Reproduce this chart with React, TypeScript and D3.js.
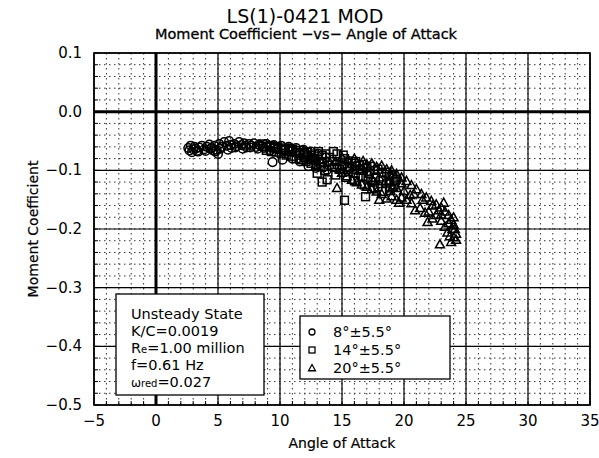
import React from "react";
import * as d3 from "d3";

const title = "LS(1)-0421 MOD";
const subtitle = "Moment Coefficient \u2212vs\u2212 Angle of Attack";
const xLabel = "Angle of Attack";
const yLabel = "Moment Coefficient";
const xTicks = [-5, 0, 5, 10, 15, 20, 25, 30, 35];
const yTicks = [0.1, 0.0, -0.1, -0.2, -0.3, -0.4, -0.5];
const yTickLabels = ["0.1", "0.0", "\u22120.1", "\u22120.2", "\u22120.3", "\u22120.4", "\u22120.5"];
const xTickLabels = ["\u22125", "0", "5", "10", "15", "20", "25", "30", "35"];

// 8° ± 5.5°
const circles: [number, number][] = [
  [2.6, -0.062], [2.7, -0.066], [2.8, -0.058], [3.0, -0.064], [3.1, -0.060], [3.3, -0.067], [3.5, -0.061],
  [3.7, -0.058], [3.9, -0.064], [4.1, -0.060], [4.3, -0.056], [4.5, -0.062], [4.7, -0.058], [4.9, -0.065],
  [5.1, -0.055], [5.3, -0.060], [5.5, -0.052], [5.7, -0.058], [5.9, -0.050], [6.1, -0.062], [6.3, -0.055],
  [6.5, -0.059], [6.7, -0.052], [6.9, -0.057], [7.1, -0.054], [7.3, -0.061], [7.5, -0.055], [7.7, -0.058],
  [7.9, -0.054], [8.1, -0.060], [8.3, -0.056], [8.6, -0.059], [8.9, -0.055], [9.2, -0.060], [9.5, -0.057],
  [9.8, -0.062], [10.1, -0.058], [10.4, -0.064], [10.7, -0.060], [11.0, -0.066], [11.3, -0.062], [11.6, -0.070],
  [11.9, -0.065], [12.2, -0.074], [12.5, -0.068], [12.8, -0.080], [13.1, -0.072], [13.4, -0.086], [13.7, -0.078],
  [14.0, -0.092], [13.8, -0.099], [13.5, -0.095], [13.2, -0.088], [12.9, -0.084], [12.6, -0.079], [12.3, -0.076],
  [12.0, -0.072], [11.6, -0.074], [11.2, -0.070], [10.8, -0.068], [10.3, -0.066], [9.8, -0.064], [9.2, -0.066],
  [8.7, -0.062], [8.2, -0.063], [7.6, -0.061], [7.0, -0.063], [6.4, -0.061], [5.8, -0.065], [5.2, -0.063],
  [4.6, -0.066], [4.0, -0.067], [3.4, -0.068], [2.9, -0.069], [9.4, -0.086], [10.2, -0.082], [11.0, -0.080],
  [12.3, -0.093], [12.9, -0.096], [11.6, -0.085], [5.0, -0.072], [4.8, -0.068], [6.0, -0.057], [7.2, -0.058],
  [8.4, -0.058], [9.6, -0.060], [10.8, -0.063], [12.0, -0.068], [13.0, -0.076], [13.8, -0.085], [3.2, -0.063],
  [4.4, -0.063],
];

// 14° ± 5.5°
const squares: [number, number][] = [
  [8.6, -0.055], [8.9, -0.060], [9.2, -0.058], [9.5, -0.062], [9.8, -0.060], [10.1, -0.065], [10.4, -0.062],
  [10.7, -0.067], [11.0, -0.064], [11.3, -0.069], [11.6, -0.066], [11.9, -0.072], [12.2, -0.069], [12.5, -0.075],
  [12.8, -0.072], [13.1, -0.068], [13.4, -0.075], [13.7, -0.072], [14.0, -0.078], [14.3, -0.068], [14.6, -0.072],
  [15.1, -0.074], [15.2, -0.080], [15.5, -0.084], [15.8, -0.088], [16.1, -0.085], [16.4, -0.092], [16.7, -0.090],
  [17.0, -0.095], [17.3, -0.093], [17.6, -0.100], [17.9, -0.098], [18.2, -0.104], [18.6, -0.103], [18.8, -0.110],
  [19.1, -0.108], [19.4, -0.115], [19.2, -0.125], [18.9, -0.130], [18.6, -0.122], [18.2, -0.136], [17.9, -0.128],
  [17.5, -0.120], [17.1, -0.115], [16.9, -0.145], [16.7, -0.110], [16.3, -0.112], [15.9, -0.105], [15.5, -0.102],
  [15.2, -0.151], [14.8, -0.098], [14.4, -0.095], [13.8, -0.116], [13.4, -0.120], [13.6, -0.100], [13.3, -0.094],
  [12.9, -0.090], [12.5, -0.088], [12.1, -0.085], [11.7, -0.082], [11.3, -0.080], [10.9, -0.076], [10.5, -0.074],
  [10.1, -0.071], [9.7, -0.069], [9.3, -0.068], [8.9, -0.066], [12.0, -0.078], [12.4, -0.082], [12.8, -0.080],
  [13.2, -0.085], [13.0, -0.105], [14.2, -0.085], [14.6, -0.090], [15.0, -0.092], [15.6, -0.095], [16.0, -0.098],
  [16.5, -0.100], [17.2, -0.105], [17.7, -0.112], [18.3, -0.118], [18.8, -0.120], [19.3, -0.118], [17.6, -0.130],
  [16.8, -0.125], [16.0, -0.118], [15.3, -0.112], [14.5, -0.108],
];

// 20° ± 5.5°
const triangles: [number, number][] = [
  [14.5, -0.085], [15.0, -0.078], [15.5, -0.082], [16.0, -0.080], [16.2, -0.086], [16.7, -0.084], [17.0, -0.090],
  [17.4, -0.088], [17.8, -0.094], [18.2, -0.092], [18.6, -0.098], [19.0, -0.100], [19.4, -0.106], [19.8, -0.112],
  [19.8, -0.122], [19.1, -0.128], [20.2, -0.118], [20.6, -0.125], [21.0, -0.132], [21.4, -0.140], [21.8, -0.146],
  [22.2, -0.152], [22.6, -0.158], [23.0, -0.163], [23.3, -0.170], [23.6, -0.176], [23.8, -0.184], [24.0, -0.192],
  [24.1, -0.200], [24.2, -0.208], [24.0, -0.214], [23.8, -0.222], [23.5, -0.206], [23.3, -0.196], [23.0, -0.186],
  [22.9, -0.226], [22.6, -0.176], [22.3, -0.182], [22.0, -0.170], [21.7, -0.172], [21.3, -0.164], [20.9, -0.168],
  [20.6, -0.156], [20.2, -0.150], [19.8, -0.146], [19.4, -0.150], [19.0, -0.144], [18.6, -0.148], [18.2, -0.140],
  [17.8, -0.136], [17.4, -0.132], [17.0, -0.128], [16.6, -0.124], [16.2, -0.120], [15.8, -0.116], [15.4, -0.110],
  [15.0, -0.104], [14.6, -0.130], [14.8, -0.098], [18.0, -0.150], [19.6, -0.155], [20.5, -0.142], [21.9, -0.188],
  [16.4, -0.100], [17.2, -0.106], [18.0, -0.112], [18.8, -0.118], [19.4, -0.130], [20.0, -0.135], [20.8, -0.140],
  [21.5, -0.150], [22.3, -0.160], [23.0, -0.175], [23.6, -0.190], [24.0, -0.180], [23.9, -0.200], [23.7, -0.212],
  [24.2, -0.218], [23.2, -0.155], [22.8, -0.168], [15.6, -0.095], [17.5, -0.118], [18.9, -0.135],
];

const infoLines = ["Unsteady State", "K/C=0.0019", "Re=1.00 million", "f=0.61 Hz", "\u03c9red=0.027"];
const legendLabels = ["8\u00b0\u00b15.5\u00b0", "14\u00b0\u00b15.5\u00b0", "20\u00b0\u00b15.5\u00b0"];

const W = 599;
const H = 458;
const FONT = "'DejaVu Sans', sans-serif";

function Marker({ kind, cx, cy, s, sw }: { kind: number; cx: number; cy: number; s: number; sw: number }) {
  if (kind === 0) return <circle cx={cx} cy={cy} r={s} fill="none" stroke="#000" strokeWidth={sw} />;
  if (kind === 1)
    return <rect x={cx - s} y={cy - s} width={2 * s} height={2 * s} fill="none" stroke="#000" strokeWidth={sw} />;
  const h = s * 1.15;
  return (
    <path
      d={`M${cx},${cy - h}L${cx + h},${cy + h * 0.8}L${cx - h},${cy + h * 0.8}Z`}
      fill="none"
      stroke="#000"
      strokeWidth={sw}
    />
  );
}

export default function App() {
  const x = d3.scaleLinear().domain([-5, 35]).range([94, 590]);
  const y = d3.scaleLinear().domain([-0.5, 0.1]).range([405, 53]);
  const minorX = d3.range(-5, 35.01, 1);
  const minorY = d3.range(-0.5, 0.1001, 0.02);
  const series = [circles, squares, triangles];

  return (
    <svg width={W} height={H} style={{ position: "absolute", left: 0, top: 0, background: "#fff" }}>
      <rect width={W} height={H} fill="#fff" />
      {/* minor dotted grid */}
      {minorX.map((v, i) => (
        <line key={"mx" + i} x1={x(v)} x2={x(v)} y1={y(0.1)} y2={y(-0.5)} stroke="#333" strokeWidth={1} strokeDasharray="1.5,3.5" />
      ))}
      {minorY.map((v, i) => (
        <line key={"my" + i} y1={y(v)} y2={y(v)} x1={x(-5)} x2={x(35)} stroke="#333" strokeWidth={1} strokeDasharray="1.5,3.5" />
      ))}
      {/* minor ticks */}
      {minorX.map((v, i) => (
        <line key={"tx" + i} x1={x(v)} x2={x(v)} y1={y(-0.5)} y2={y(-0.5) - 4} stroke="#000" strokeWidth={1} />
      ))}
      {minorY.map((v, i) => (
        <line key={"ty" + i} y1={y(v)} y2={y(v)} x1={x(-5)} x2={x(-5) + 4} stroke="#000" strokeWidth={1} />
      ))}
      {/* major grid */}
      {xTicks.map((v) => (
        <line key={"Mx" + v} x1={x(v)} x2={x(v)} y1={y(0.1)} y2={y(-0.5)} stroke="#000" strokeWidth={v === 0 ? 3 : 1.2} />
      ))}
      {yTicks.map((v) => (
        <line key={"My" + v} y1={y(v)} y2={y(v)} x1={x(-5)} x2={x(35)} stroke="#000" strokeWidth={v === 0 ? 3 : 1.2} />
      ))}
      <rect x={x(-5)} y={y(0.1)} width={x(35) - x(-5)} height={y(-0.5) - y(0.1)} fill="none" stroke="#000" strokeWidth={1.6} />

      {/* data */}
      {series.map((pts, k) =>
        pts.map((p, i) => (
          <Marker key={k + "-" + i} kind={k} cx={x(p[0])} cy={y(p[1])} s={k === 0 ? 4.3 : 3.9} sw={1.5} />
        ))
      )}

      {/* info box */}
      <rect x={116} y={294} width={148} height={101} fill="#fff" stroke="#000" strokeWidth={1.3} />
      <g fontFamily={FONT} fontSize={14.5} fill="#000">
        <text x={131} y={319}>{infoLines[0]}</text>
        <text x={131} y={336}>{infoLines[1]}</text>
        <text x={131} y={353}>
          R<tspan fontSize={10}>e</tspan>=1.00 million
        </text>
        <text x={131} y={370}>{infoLines[3]}</text>
        <text x={131} y={387}>
          <tspan fontSize={12}>{"\u03c9"}</tspan>
          <tspan fontSize={10}>red</tspan>=0.027
        </text>
      </g>

      {/* legend box */}
      <rect x={300} y={316} width={150} height={63} fill="#fff" stroke="#000" strokeWidth={1.3} />
      {legendLabels.map((l, i) => (
        <g key={l}>
          <Marker kind={i} cx={312} cy={332 + i * 18} s={3} sw={1.3} />
          <text x={333} y={337 + i * 18} fontFamily={FONT} fontSize={14.5} fill="#000">
            {l}
          </text>
        </g>
      ))}

      {/* tick labels */}
      {xTicks.map((v, i) => (
        <text key={"xl" + v} x={x(v)} y={426} textAnchor="middle" fontFamily={FONT} fontSize={15} fill="#000">
          {xTickLabels[i]}
        </text>
      ))}
      {yTicks.map((v, i) => (
        <text key={"yl" + v} x={82} y={y(v) + 5} textAnchor="end" fontFamily={FONT} fontSize={15} fill="#000">
          {yTickLabels[i]}
        </text>
      ))}

      {/* titles */}
      <text x={305} y={23} textAnchor="middle" fontFamily={FONT} fontSize={19} fill="#000">{title}</text>
      <text x={306} y={39} textAnchor="middle" fontFamily={FONT} fontSize={14.5} fill="#000" stroke="#000" strokeWidth={0.3}>
        {subtitle}
      </text>
      <text x={342} y={448} textAnchor="middle" fontFamily={FONT} fontSize={14} fill="#000" stroke="#000" strokeWidth={0.2}>
        {xLabel}
      </text>
      <text transform={`translate(38,229) rotate(-90)`} textAnchor="middle" fontFamily={FONT} fontSize={14} fill="#000" stroke="#000" strokeWidth={0.2}>
        {yLabel}
      </text>
    </svg>
  );
}
